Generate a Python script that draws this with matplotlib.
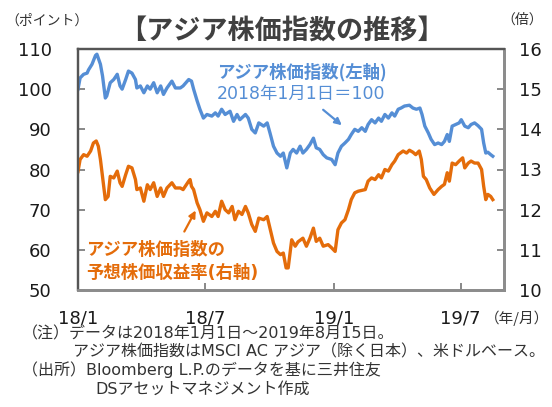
import numpy as np
import matplotlib.pyplot as plt

# data (days counted from 2018-01-01)
idx_days = [0, 3, 8, 13, 15, 20, 25, 27, 32, 35,
            39, 41, 46, 51, 56, 60, 63, 68, 72, 77,
            82, 84, 89, 94, 99, 103, 108, 113, 118, 122,
            127, 134, 139, 146, 150, 158, 162, 165, 170, 174,
            179, 184, 191, 196, 200, 205, 210, 217, 222, 227,
            231, 239, 243, 248, 253, 258, 265, 270, 274, 279,
            284, 289, 293, 298, 303, 307, 312, 317, 321, 326,
            331, 336, 340, 345, 350, 355, 362, 367, 371, 376,
            381, 386, 390, 395, 400, 405, 410, 414, 419, 424,
            429, 433, 438, 443, 448, 452, 457, 461, 466, 473,
            478, 483, 488, 491, 495, 500, 504, 509, 514, 519,
            523, 527, 530, 534, 539, 544, 547, 552, 557, 561,
            566, 571, 576, 579, 582, 585, 589, 592]
idx_val = [100.0, 102.8, 103.7, 104.0, 104.8, 106.2, 108.4, 108.7, 106.2, 103.3,
           97.8, 98.3, 101.6, 102.4, 103.7, 100.8, 100.0, 102.4, 104.5, 104.0,
           102.4, 100.3, 100.8, 99.1, 100.8, 100.0, 101.6, 99.1, 100.8, 98.7,
           100.3, 102.0, 100.3, 100.3, 100.8, 102.4, 102.0, 100.0, 97.1, 95.0,
           92.8, 93.7, 93.3, 94.1, 93.3, 95.0, 93.7, 94.5, 92.0, 93.7,
           92.4, 93.7, 92.8, 90.0, 89.1, 91.6, 90.8, 91.6, 89.1, 85.8,
           84.1, 83.3, 84.1, 80.4, 84.1, 85.0, 84.1, 85.8, 84.1, 85.0,
           86.2, 87.8, 85.4, 85.0, 83.7, 82.9, 82.5, 81.2, 84.1, 85.8,
           86.6, 87.5, 88.7, 90.0, 89.5, 90.4, 89.5, 91.2, 92.4, 91.6,
           92.8, 92.0, 93.7, 92.8, 94.1, 93.3, 95.0, 95.3, 95.8, 96.0,
           95.3, 95.0, 95.3, 93.7, 90.8, 89.1, 87.5, 86.2, 86.6, 86.2,
           87.0, 88.7, 87.0, 90.8, 91.2, 91.6, 92.4, 90.8, 90.4, 91.2,
           91.6, 90.9, 90.0, 86.6, 84.1, 84.3, 83.7, 83.3]

per_days = [0, 3, 8, 13, 18, 22, 26, 29, 32, 35,
            39, 43, 46, 51, 56, 60, 63, 68, 72, 77,
            82, 84, 89, 94, 99, 103, 108, 113, 118, 122,
            127, 134, 139, 146, 150, 158, 160, 162, 165, 170,
            174, 179, 184, 191, 196, 200, 205, 210, 215, 220,
            224, 229, 234, 239, 243, 248, 253, 258, 265, 270,
            274, 279, 284, 289, 293, 297, 300, 305, 310, 314,
            321, 326, 331, 336, 340, 345, 350, 357, 362, 367,
            371, 376, 381, 386, 390, 395, 400, 410, 414, 419,
            424, 429, 433, 438, 443, 448, 452, 457, 464, 469,
            473, 478, 482, 487, 490, 493, 497, 502, 508, 514,
            519, 523, 527, 530, 534, 539, 544, 549, 552, 557,
            561, 566, 571, 576, 579, 582, 585, 589, 592]
per_val = [12.95, 13.25, 13.37, 13.33, 13.46, 13.66, 13.71, 13.58, 13.25, 12.83,
           12.25, 12.33, 12.83, 12.79, 12.96, 12.67, 12.58, 12.87, 13.08, 13.04,
           12.75, 12.50, 12.54, 12.21, 12.62, 12.50, 12.67, 12.33, 12.54, 12.33,
           12.54, 12.67, 12.54, 12.54, 12.50, 12.71, 12.75, 12.58, 12.50, 12.17,
           12.00, 11.71, 11.92, 11.83, 11.96, 11.83, 12.21, 12.00, 11.92, 12.08,
           11.75, 11.96, 11.88, 12.08, 11.92, 11.63, 11.46, 11.79, 11.75, 11.83,
           11.54, 11.17, 10.96, 10.88, 10.92, 10.55, 10.55, 11.25, 11.09, 11.20,
           11.29, 11.09, 11.29, 11.54, 11.21, 11.29, 11.09, 11.13, 11.05, 10.96,
           11.50, 11.67, 11.75, 12.00, 12.25, 12.42, 12.46, 12.50, 12.71, 12.79,
           12.75, 12.87, 12.79, 13.00, 12.96, 13.12, 13.21, 13.37, 13.46, 13.41,
           13.48, 13.43, 13.37, 13.46, 13.25, 12.83, 12.75, 12.54, 12.38, 12.50,
           12.58, 12.63, 12.92, 12.71, 13.16, 13.12, 13.21, 13.29, 13.04, 13.16,
           13.21, 13.16, 13.16, 13.00, 12.58, 12.25, 12.38, 12.33, 12.25]

tick_dates = ['2018-01-01', '2018-07-01', '2019-01-01', '2019-07-01']
tick_labels = ['18/1', '18/7', '19/1', '19/7']

BLUE = '#558ED5'
ORANGE = '#E46C0A'
JP = ['Noto Sans CJK JP', 'DejaVu Sans']
MIX = ['DejaVu Sans', 'Noto Sans CJK JP']

plt.rcParams['font.family'] = MIX

W, H = 552, 407
def px(x, y):
    # reference pixel -> figure fraction
    return x / W, 1 - y / H

start = np.datetime64('2018-01-01')
idx_dates = start + np.array(idx_days).astype('timedelta64[D]')
per_dates = start + np.array(per_days).astype('timedelta64[D]')

fig = plt.figure(figsize=(W / 100, H / 100), dpi=100)
ax = fig.add_axes([78 / W, 1 - 290 / H, 426 / W, 241 / H])
ax2 = ax.twinx()

ax.plot(idx_dates, idx_val, color=BLUE, lw=2.4, solid_joinstyle='round')
ax2.plot(per_dates, per_val, color=ORANGE, lw=2.4, solid_joinstyle='round')

ax.set_xlim(start, np.datetime64('2019-09-01'))
ax.set_ylim(50, 110)
ax2.set_ylim(10, 16)
ax.set_yticks(np.arange(50, 111, 10))
ax2.set_yticks(np.arange(10, 17, 1))
ax.set_xticks(np.array(tick_dates, dtype='datetime64[D]'))
ax.set_xticklabels(tick_labels)

ax.tick_params(axis='y', direction='in', length=5, width=1.3, color='#7f7f7f',
               pad=19, labelsize=13, labelcolor='#1a1a1a')
ax.tick_params(axis='x', direction='in', length=5, width=1.3, color='#7f7f7f',
               pad=14, labelsize=13, labelcolor='#1a1a1a')
ax2.tick_params(axis='y', direction='in', length=5, width=1.3, color='#7f7f7f',
                pad=11, labelsize=13, labelcolor='#1a1a1a')

for a in (ax, ax2):
    for s in ('top', 'left'):
        a.spines[s].set_color('#555555')
        a.spines[s].set_linewidth(1.6)
    for s in ('bottom', 'right'):
        a.spines[s].set_color('#8c8c8c')
        a.spines[s].set_linewidth(2)

# titles and axis units
fig.text(*px(282, 31), '【アジア株価指数の推移】', ha='center', va='center',
         fontsize=19.5, fontweight='bold', color='#404040', family=JP)
fig.text(*px(47, 21), '（ポイント）', ha='center', va='center', fontsize=10,
         color='#333333', family=JP)
fig.text(*px(522, 20), '（倍）', ha='center', va='center', fontsize=10,
         color='#333333', family=JP)
fig.text(*px(517, 318), '（年/月）', ha='center', va='center', fontsize=10.5,
         color='#333333', family=JP)

# series labels and arrows
fig.text(*px(217, 72), 'アジア株価指数(左軸)', ha='left', va='center', fontsize=12.5,
         fontweight='bold', color=BLUE, family=JP)
fig.text(*px(217, 94), '2018年1月1日＝100', ha='left', va='center', fontsize=12.5,
         color=BLUE, family=MIX)
ax.annotate('', xy=px(344, 127), xytext=px(321, 108), xycoords='figure fraction',
            arrowprops=dict(arrowstyle='-|>', color=BLUE, lw=1.6, mutation_scale=10))

fig.text(*px(86, 250), 'アジア株価指数の', ha='left', va='center', fontsize=12.5,
         fontweight='bold', color=ORANGE, family=JP)
fig.text(*px(86, 273), '予想株価収益率(右軸)', ha='left', va='center', fontsize=12.5,
         fontweight='bold', color=ORANGE, family=MIX)
ax.annotate('', xy=px(197, 208), xytext=px(183, 234), xycoords='figure fraction',
            arrowprops=dict(arrowstyle='-|>', color=ORANGE, lw=1.6, mutation_scale=10))

# notes
notes = [(22, 334, '（注）データは2018年1月1日～2019年8月15日。'),
         (73, 352, 'アジア株価指数はMSCI AC アジア（除く日本）、米ドルベース。'),
         (22, 370, '（出所）Bloomberg L.P.のデータを基に三井住友'),
         (95, 389, 'DSアセットマネジメント作成')]
for x, y, t in notes:
    fig.text(*px(x, y), t, ha='left', va='center', fontsize=11.5,
             color='#333333', family=MIX)

fig.savefig('out.png', dpi=100)
